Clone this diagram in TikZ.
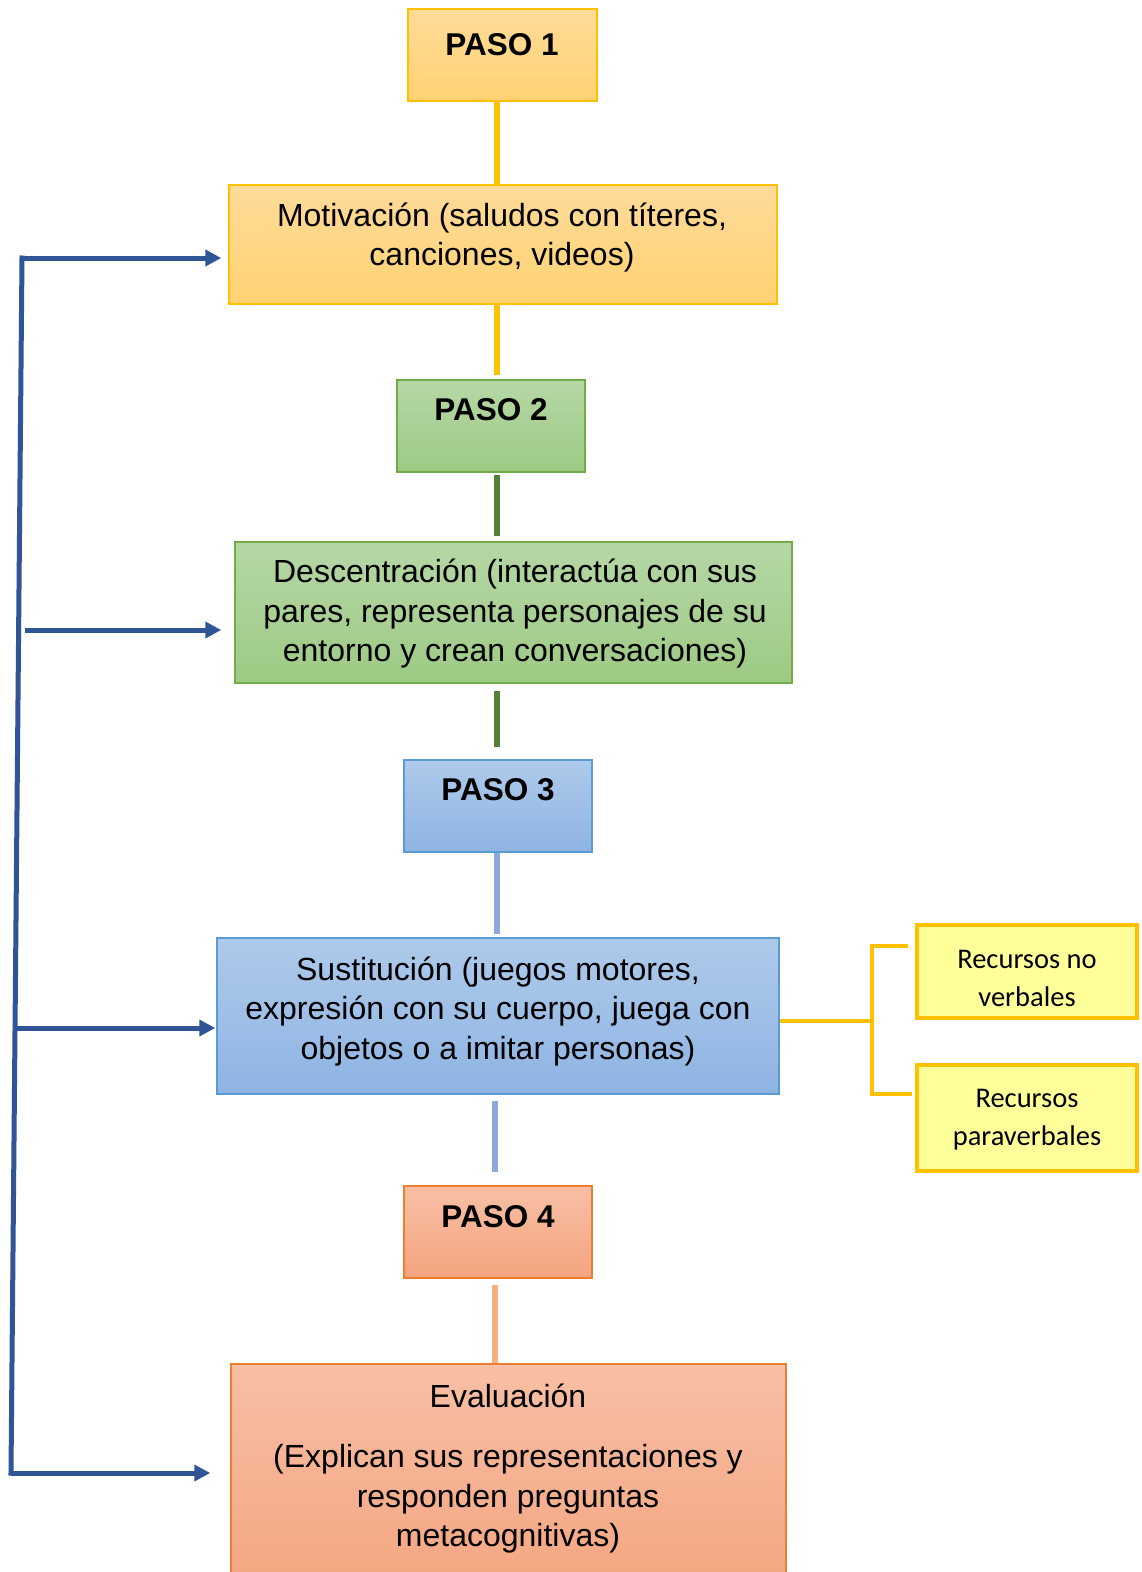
\documentclass[tikz,border=0pt]{standalone}
\usepackage{fontspec}
\setmainfont{Liberation Sans}
\newfontfamily\calib{Carlito}
\usetikzlibrary{arrows.meta,calc}
\definecolor{gold}{HTML}{FFC000}
\definecolor{ytop}{HTML}{FFDB9A}
\definecolor{ybot}{HTML}{FFD272}
\definecolor{gtop}{HTML}{B6D7A6}
\definecolor{gbot}{HTML}{9DCA84}
\definecolor{gbord}{HTML}{70AD47}
\definecolor{gline}{HTML}{548235}
\definecolor{btop}{HTML}{AECAEA}
\definecolor{bbot}{HTML}{8EB4E3}
\definecolor{bbord}{HTML}{5B9BD5}
\definecolor{bline}{HTML}{8EAADB}
\definecolor{otop}{HTML}{F8BFA5}
\definecolor{obot}{HTML}{F4A47F}
\definecolor{obord}{HTML}{ED7D31}
\definecolor{oline}{HTML}{F4B183}
\definecolor{navy}{HTML}{2F5597}
\definecolor{paleyellow}{HTML}{FFFF99}
\begin{document}
\begin{tikzpicture}[x=1pt,y=-1pt,
  box/.style={draw, line width=1.5pt, inner sep=0pt},
  ybox/.style={box, draw=gold, top color=ytop, bottom color=ybot},
  gbox/.style={box, draw=gbord, top color=gtop, bottom color=gbot},
  bbox/.style={box, draw=bbord, top color=btop, bottom color=bbot},
  obox/.style={box, draw=obord, top color=otop, bottom color=obot},
  rbox/.style={draw=gold, line width=4pt, fill=paleyellow, inner sep=0pt},
  txt/.style={align=center, inner sep=0pt, font=\fontsize{32}{39.5}\selectfont},
  ptxt/.style={align=center, inner sep=0pt, font=\fontsize{31.5}{36}\selectfont\bfseries},
  rtxt/.style={align=center, inner sep=0pt, font=\calib\fontsize{28.5}{38}\selectfont},
  conn/.style={line width=6pt},
  bracket/.style={draw=gold, line width=4pt},
  navyline/.style={draw=navy, line width=5pt},
  navyarrow/.style={navyline, -{Triangle[length=16pt,width=16pt]}}
]
\useasboundingbox (0,0) rectangle (1141,1572);
\clip (0,0) rectangle (1141,1572);
\fill[white] (0,0) rectangle (1141,1572);

% boxes
\node[ybox, minimum width=189pt, minimum height=92pt] (p1) at (502.5,55) {};
\node[ybox, minimum width=548pt, minimum height=119pt] (mot) at (503,244.5) {};
\node[gbox, minimum width=188pt, minimum height=92pt] (p2) at (491,426) {};
\node[gbox, minimum width=557pt, minimum height=141pt] (desc) at (513.5,612.5) {};
\node[bbox, minimum width=188pt, minimum height=92pt] (p3) at (498,806) {};
\node[bbox, minimum width=562pt, minimum height=156pt] (sus) at (498,1016) {};
\node[obox, minimum width=188pt, minimum height=92pt] (p4) at (498,1232) {};
\node[obox, minimum width=555pt, minimum height=236pt] (eva) at (508.5,1482) {};
\node[rbox, minimum width=220pt, minimum height=93pt] (rn) at (1027,971.5) {};
\node[rbox, minimum width=220pt, minimum height=106pt] (rp) at (1027,1118) {};

% texts
\node[ptxt] (p1t) at (502,45) {PASO 1};
\node[ptxt] (p2t) at (491,410) {PASO 2};
\node[ptxt] (p3t) at (498,790) {PASO 3};
\node[ptxt] (p4t) at (498,1217) {PASO 4};
\node[txt] (mott) at (502,237.5) {Motivación (saludos con títeres,\\canciones, videos)};
\node[txt] (desct) at (515,614) {Descentración (interactúa con sus\\pares, representa personajes de su\\entorno y crean conversaciones)};
\node[txt] (sust) at (498,1011.5) {Sustitución (juegos motores,\\expresión con su cuerpo, juega con\\objetos o a imitar personas)};
\node[txt] (evat1) at (508,1396) {Evaluación};
\node[txt] (evat2) at (508,1499) {(Explican sus representaciones y\\responden preguntas\\metacognitivas)};
\node[rtxt] (rnt) at (1027,978.5) {Recursos no\\verbales};
\node[rtxt] (rpt) at (1027,1119.5) {Recursos\\paraverbales};

% vertical connectors
\coordinate (sa) at (497,0);
\coordinate (sb) at (495,0);
\draw[conn, gold] (p1.south -| sa) -- (mot.north -| sa);
\draw[conn, gold, shorten >=4pt] (mot.south -| sa) -- (p2.north -| sa);
\draw[conn, gline, shorten <=2pt, shorten >=5pt] (p2.south -| sa) -- (desc.north -| sa);
\draw[conn, gline, shorten <=7pt, shorten >=12pt] (desc.south -| sa) -- (p3.north -| sa);
\draw[conn, bline, shorten >=3pt] (p3.south -| sa) -- (sus.north -| sa);
\draw[conn, bline, shorten <=6pt, shorten >=13pt] (sus.south -| sb) -- (p4.north -| sb);
\draw[conn, oline, shorten <=6pt] (p4.south -| sb) -- (eva.north -| sb);

% bracket to resources
\coordinate (bm) at (872,1021);
\coordinate (bt) at (872,946);
\coordinate (bb) at (872,1094);
\draw[bracket] (sus.east |- bm) -- (bm);
\draw[bracket, line cap=rect] ([xshift=-9pt]rn.west |- bt) -- (bt) -- (bb) -- ([xshift=-5pt]rp.west |- bb);

% feedback line
\coordinate (c1) at (22,258);
\coordinate (c2) at (25,630);
\coordinate (c3) at (15,1028);
\coordinate (c4) at (11,1473);
\draw[navyline, line cap=rect] (c1) -- (c4);
\draw[navyarrow, shorten >=7pt] (c1) -- (c1 -| mot.west);
\draw[navyarrow, shorten >=13pt] (c2) -- (c2 -| desc.west);
\draw[navyarrow, shorten >=1pt] (c3) -- (c3 -| sus.west);
\draw[navyarrow, shorten >=20pt] (c4) -- (c4 -| eva.west);
\end{tikzpicture}
\end{document}
